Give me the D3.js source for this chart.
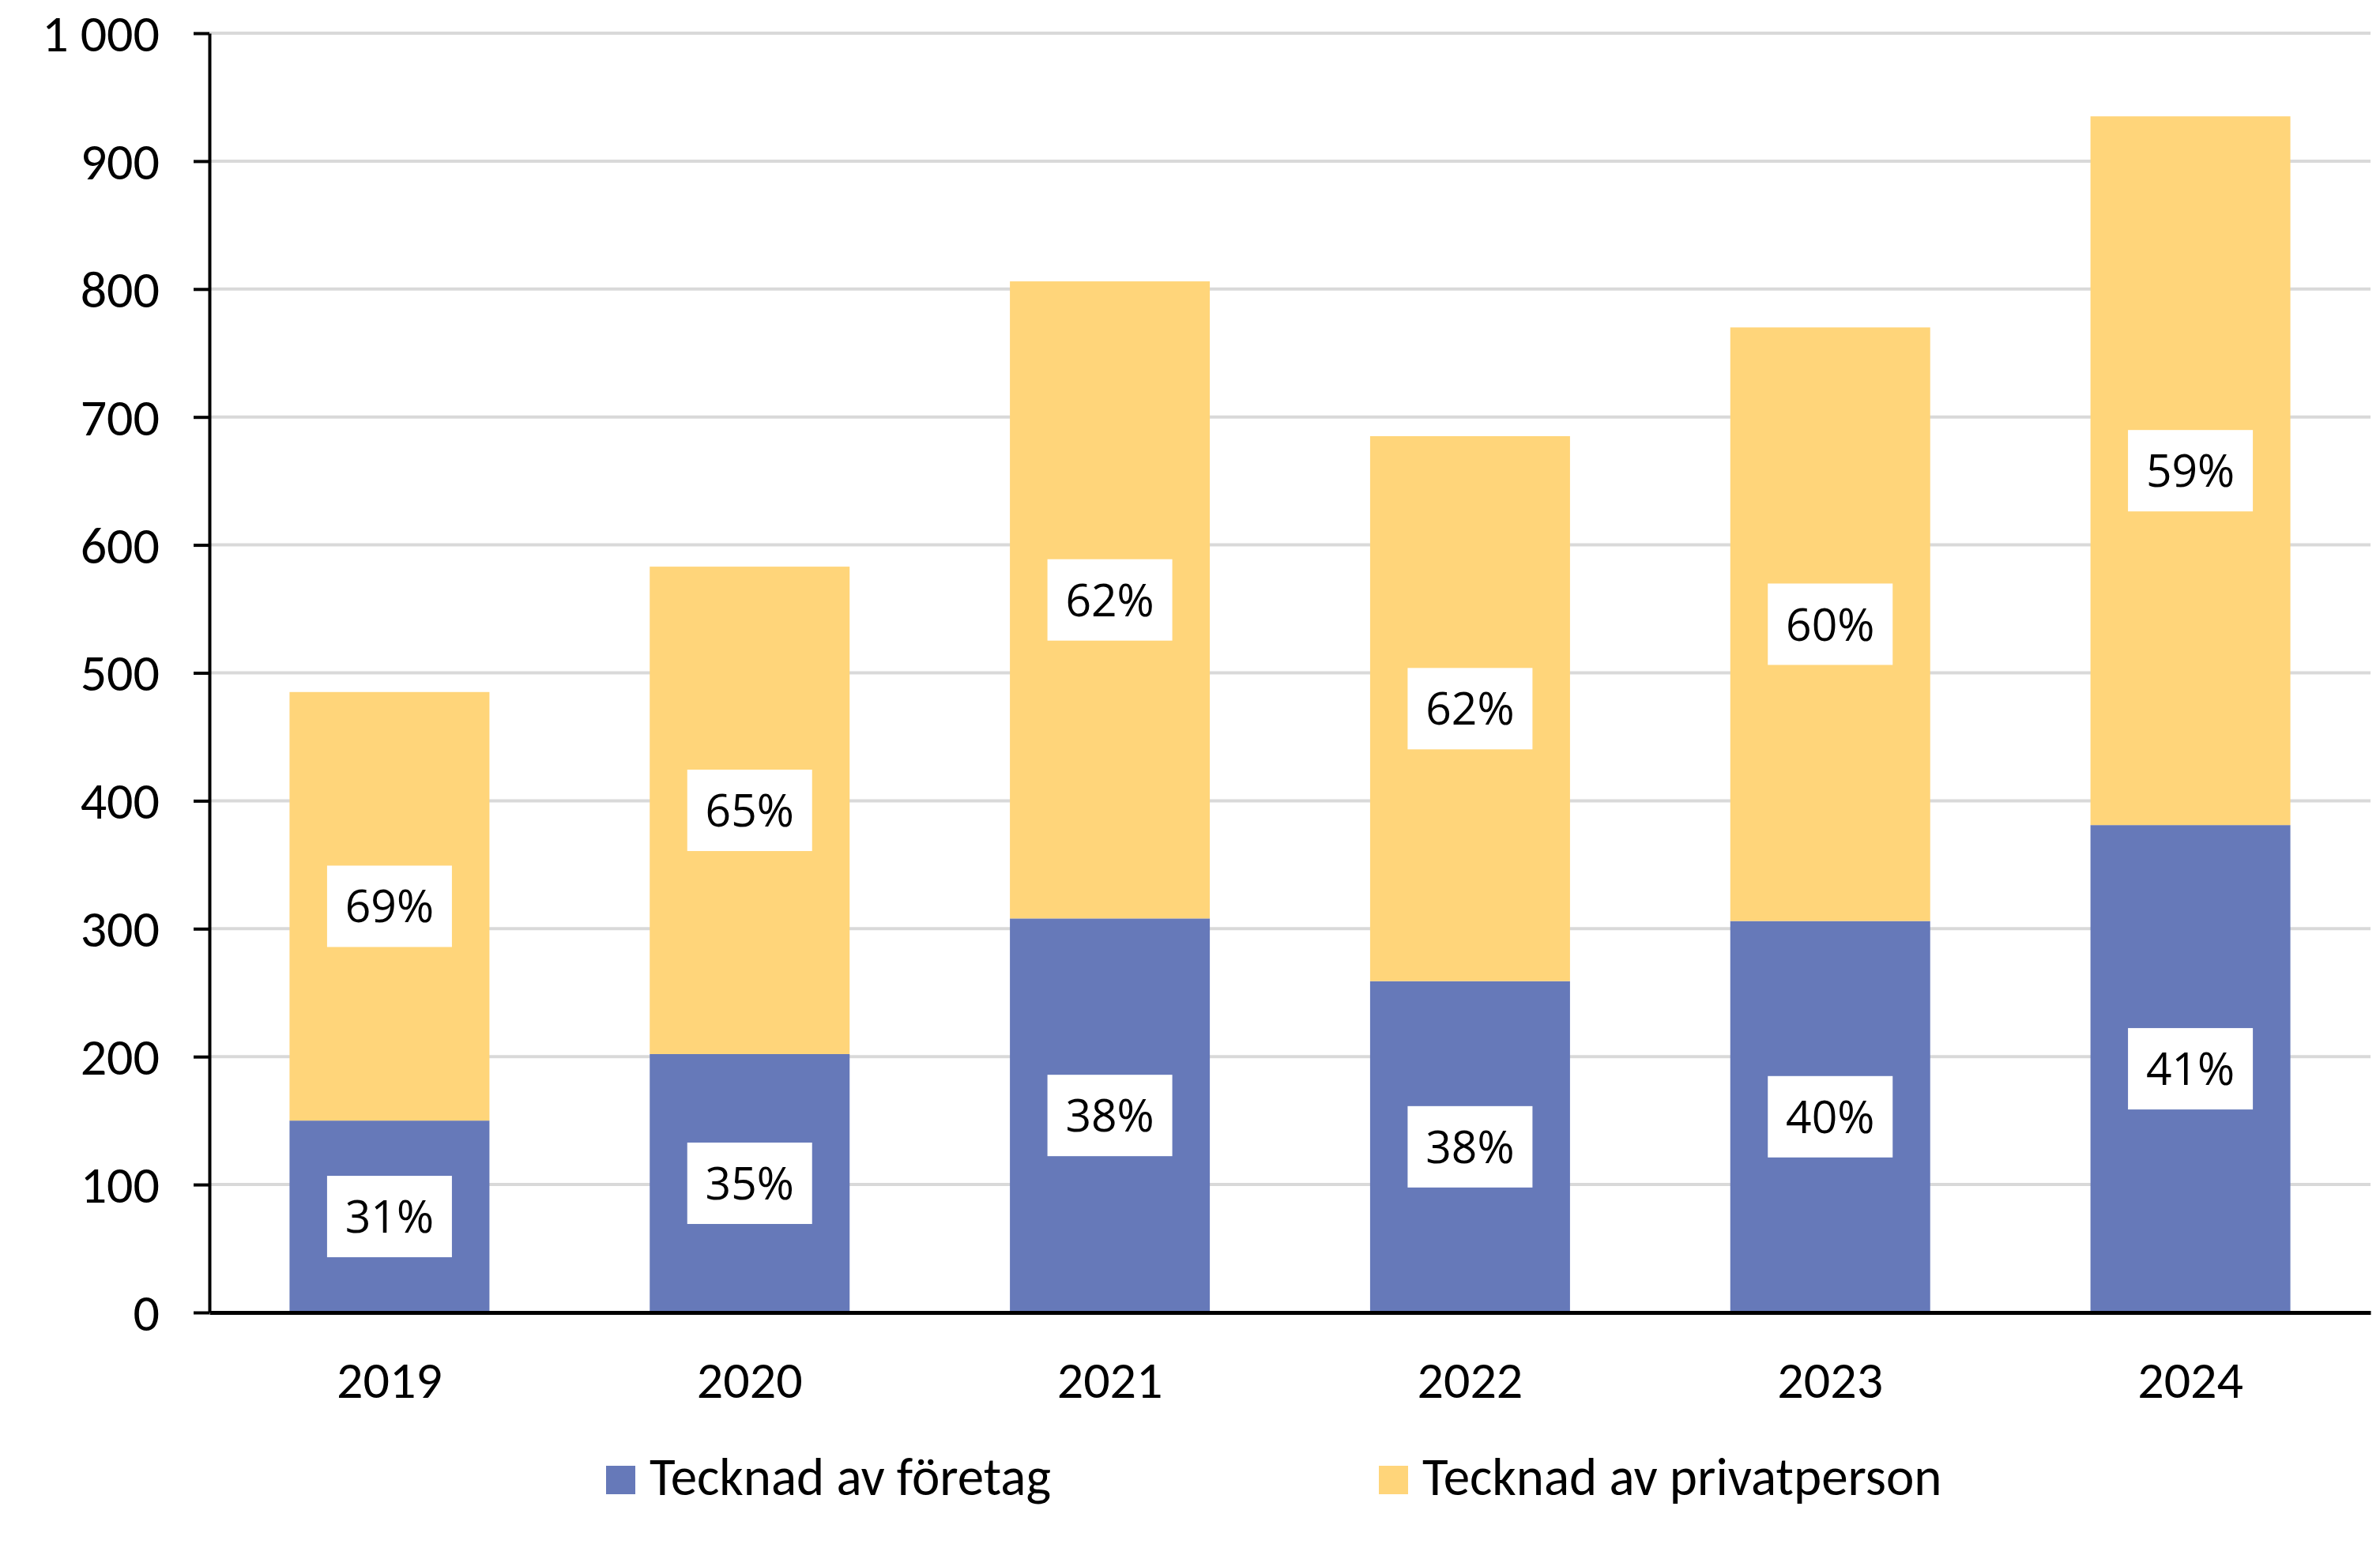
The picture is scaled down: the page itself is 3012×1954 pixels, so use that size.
<!DOCTYPE html>
<html>
<head>
<meta charset="utf-8">
<script src="https://cdn.jsdelivr.net/npm/d3@7"></script>
<style>
body { margin: 0; background: #fff; }
svg { display: block; }
.axis text, .legtext { font-family: Carlito, "Liberation Sans Narrow", "Liberation Sans", sans-serif; fill: #000; }
.pct { font-family: "Open Sans", "Noto Sans", sans-serif; fill: #000; }
</style>
</head>
<body>
<div id="vizholder"></div>
<script>
var years = ["2019", "2020", "2021", "2022", "2023", "2024"];
var foretag = [150, 202, 308, 259, 306, 381];
var privat = [335, 381, 498, 426, 464, 554];
var seriesKeys = ["foretag", "privat"];
var seriesNames = ["Tecknad av företag", "Tecknad av privatperson"];
var seriesColors = ["#6679B9", "#FFD57A"];
var yTicks = [0, 100, 200, 300, 400, 500, 600, 700, 800, 900, 1000];

draw();

function draw(){
	var width = 3012, height = 1954;
	var left = 265, right = 3000, top = 42, bottom = 1661;

	var svg = d3.select("#vizholder").append("svg")
		.attr("width", width)
		.attr("height", height);

	var rows = years.map(function(y, i){
		return { year: y, foretag: foretag[i], privat: privat[i] };
	});

	var x = d3.scaleBand()
		.domain(years)
		.range([left, right])
		.paddingInner(0.445)
		.paddingOuter(0.2225);

	var y = d3.scaleLinear()
		.domain([0, 1000])
		.range([bottom, top]);

	var loc = d3.formatLocale({ decimal: ",", thousands: " ", grouping: [3], currency: ["", " kr"] });
	var fmt = loc.format(",d");

	// gridlines
	svg.append("g").selectAll("line")
		.data(yTicks.filter(function(d){ return d > 0; }))
		.enter().append("line")
		.attr("x1", left).attr("x2", right)
		.attr("y1", function(d){ return y(d); })
		.attr("y2", function(d){ return y(d); })
		.style("stroke", "#D9D9D9")
		.style("stroke-width", 4);

	var stacked = d3.stack().keys(seriesKeys)(rows);

	var layer = svg.append("g").selectAll("g")
		.data(stacked)
		.enter().append("g")
		.style("fill", function(d, i){ return seriesColors[i]; });

	layer.selectAll("rect")
		.data(function(d){ return d; })
		.enter().append("rect")
		.attr("x", function(d){ return x(d.data.year); })
		.attr("width", x.bandwidth())
		.attr("y", function(d){ return y(d[1]); })
		.attr("height", function(d){ return y(d[0]) - y(d[1]); });

	// percentage labels
	var boxW = 158, boxH = 103;
	stacked.forEach(function(s){
		var lab = svg.append("g").selectAll("g")
			.data(s)
			.enter().append("g")
			.attr("transform", function(d){
				var cx = x(d.data.year) + x.bandwidth() / 2;
				var cy = (y(d[0]) + y(d[1])) / 2;
				return "translate(" + cx + "," + cy + ")";
			});
		lab.append("rect")
			.attr("x", -boxW / 2).attr("y", -boxH / 2)
			.attr("width", boxW).attr("height", boxH)
			.style("fill", "#fff");
		lab.append("text")
			.attr("class", "pct")
			.attr("text-anchor", "middle")
			.attr("dy", "0.36em")
			.style("font-size", "57px")
			.text(function(d){
				var total = d.data.foretag + d.data.privat;
				return Math.round((d[1] - d[0]) / total * 100) + "%";
			});
	});

	// axes
	var yAxis = svg.append("g")
		.attr("class", "axis")
		.attr("transform", "translate(" + left + ",0)")
		.call(d3.axisLeft(y).tickValues(yTicks).tickSize(20).tickSizeOuter(0).tickPadding(43).tickFormat(fmt));
	yAxis.select(".domain").style("stroke", "#000").style("stroke-width", 4);
	yAxis.selectAll(".tick line").style("stroke", "#000").style("stroke-width", 4);
	yAxis.selectAll("text").style("font-size", "66px").attr("dy", "0.34em");

	var xAxis = svg.append("g")
		.attr("class", "axis")
		.attr("transform", "translate(0," + bottom + ")")
		.call(d3.axisBottom(x).tickSize(0).tickSizeOuter(0));
	xAxis.select(".domain").style("stroke", "#000").style("stroke-width", 5);
	xAxis.selectAll("text").style("font-size", "66px").attr("y", 108).attr("dy", 0);

	// legend
	var legX = [767, 1745];
	var leg = svg.append("g").selectAll("g")
		.data(seriesNames)
		.enter().append("g")
		.attr("transform", function(d, i){ return "translate(" + legX[i] + ",1855)"; });
	leg.append("rect")
		.attr("width", 37).attr("height", 36)
		.style("fill", function(d, i){ return seriesColors[i]; });
	leg.append("text")
		.attr("class", "legtext")
		.attr("x", 55).attr("y", 37)
		.style("font-size", "67px")
		.text(function(d){ return d; });
}
</script>
</body>
</html>
